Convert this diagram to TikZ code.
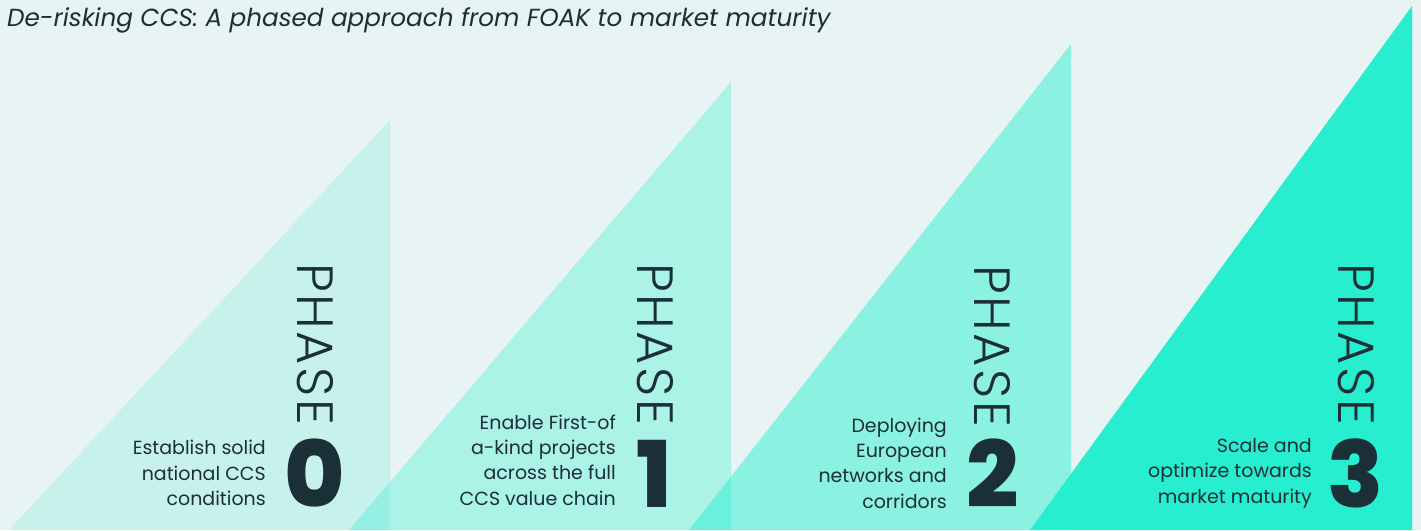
\documentclass[tikz,border=0pt]{standalone}
\usepackage{fontspec}
\setmainfont{Poppins}
\newfontfamily\phasefont{Poppins Light}[LetterSpace=5]
\newfontfamily\numfont{Poppins ExtraBold}
\definecolor{bgmint}{HTML}{E8F4F3}
\definecolor{teal}{HTML}{26EECF}
\definecolor{ink}{HTML}{1A3036}
\tikzset{
  ramp/.style={fill=teal, draw=none, fill opacity=#1},
  phaseword/.style={font=\phasefont\fontsize{51}{51}\selectfont, text=ink, rotate=-90, anchor=base west, inner sep=0pt},
  phasenum/.style={font=\numfont\fontsize{92}{92}\selectfont, text=ink, anchor=base, inner sep=0pt},
  phasedesc/.style={font=\fontsize{19}{25.3}\selectfont, text=ink, align=right, anchor=base east, inner sep=0pt},
}
\begin{document}
\begin{tikzpicture}[x=1pt,y=-1pt]
  \fill[bgmint] (0,0) rectangle (1421,530);
  \useasboundingbox (0,0) rectangle (1421,530);

  % rising phase ramps
  \fill[ramp=0.17] (9,530) -- (390,120) -- (390,530) -- cycle;
  \fill[ramp=0.31] (349,530) -- (731,82) -- (731,530) -- cycle;
  \fill[ramp=0.48] (689,530) -- (1071,44) -- (1071,530) -- cycle;
  \fill[ramp=1.0] (1030,530) -- (1412,6) -- (1412,530) -- cycle;

  % title
  \node[anchor=base west, inner sep=0pt, text=ink, font=\itshape\fontsize{24.7}{24.7}\selectfont] (title) at (7,26)
    {De-risking CCS: A phased approach from FOAK to market maturity};

  % phase 0
  \node[phaseword] (w0) at (297,263) {PHASE};
  \node[phasenum] (n0) at (315,507) {0};
  \node[phasedesc] (d0) at (266,505.5) {Establish solid\\national CCS\\conditions};

  % phase 1
  \node[phaseword] (w1) at (637,263) {PHASE};
  \node[phasenum] (n1) at (654,507) {1};
  \node[phasedesc] (d1) at (616,505) {Enable First-of\\a-kind projects\\across the full\\CCS value chain};

  % phase 2
  \node[phaseword] (w2) at (974,265) {PHASE};
  \node[phasenum] (n2) at (993,507) {2};
  \node[phasedesc] (d2) at (947,508) {Deploying\\European\\networks and\\corridors};

  % phase 3
  \node[phaseword] (w3) at (1338,263) {PHASE};
  \node[phasenum] (n3) at (1356,507) {3};
  \node[phasedesc] (d3) at (1312,503) {Scale and\\optimize towards\\market maturity};
\end{tikzpicture}
\end{document}
